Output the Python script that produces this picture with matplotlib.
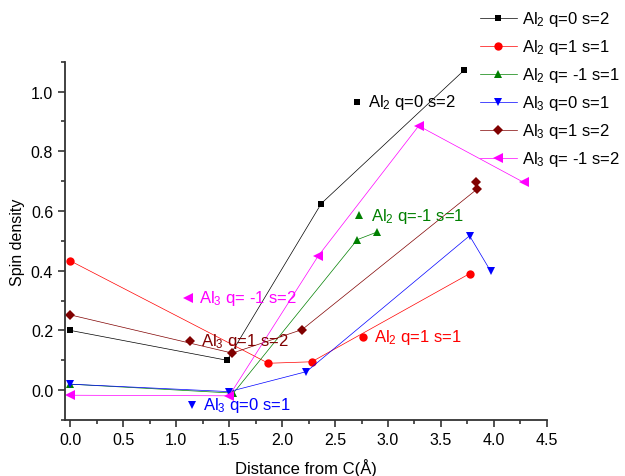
import matplotlib.pyplot as plt
from matplotlib.ticker import MultipleLocator

plt.rcParams['font.family'] = ['Liberation Sans', 'DejaVu Sans']
plt.rcParams['mathtext.fontset'] = 'custom'
plt.rcParams['mathtext.rm'] = 'Liberation Sans'
plt.rcParams['mathtext.it'] = 'Liberation Sans'

# series data
al2_q0_x = [0.0, 1.48, 2.37, 3.72]
al2_q0_y = [0.20, 0.10, 0.625, 1.072]
al2_q1_x = [0.0, 1.87, 2.28, 3.77]
al2_q1_y = [0.433, 0.090, 0.095, 0.39]
al2_qm1_x = [0.0, 1.54, 2.71, 2.90]
al2_qm1_y = [0.02, -0.01, 0.504, 0.53]
al3_q0_x = [0.0, 1.50, 2.23, 3.77, 3.97]
al3_q0_y = [0.02, -0.005, 0.062, 0.517, 0.398]
al3_q1_x = [0.0, 1.53, 2.19, 3.84, 3.83]
al3_q1_y = [0.252, 0.124, 0.203, 0.673, 0.698]
al3_qm1_x = [0.0, 1.50, 2.34, 3.29, 4.28]
al3_qm1_y = [-0.017, -0.019, 0.449, 0.885, 0.696]

labels = ['Al$_2$ q=0 s=2', 'Al$_2$ q=1 s=1', 'Al$_2$ q= -1 s=1',
          'Al$_3$ q=0 s=1', 'Al$_3$ q=1 s=2', 'Al$_3$ q= -1 s=2']
colors = ['#000000', '#ff0000', '#008000', '#0000ff', '#800000', '#ff00ff']
markers = ['s', 'o', '^', 'v', 'D', '<']
msizes = [5, 6, 6, 6, 5.5, 6.5]

# in-plot annotations: (x, y, text, series index)
notes = [
    (2.71, 0.965, 'Al$_2$ q=0 s=2', 0),
    (2.76, 0.178, 'Al$_2$ q=1 s=1', 1),
    (2.73, 0.585, 'Al$_2$ q=-1 s=1', 2),
    (1.15, -0.049, 'Al$_3$ q=0 s=1', 3),
    (1.13, 0.165, 'Al$_3$ q=1 s=2', 4),
    (1.11, 0.309, 'Al$_3$ q= -1 s=2', 5),
]

xs = [al2_q0_x, al2_q1_x, al2_qm1_x, al3_q0_x, al3_q1_x, al3_qm1_x]
ys = [al2_q0_y, al2_q1_y, al2_qm1_y, al3_q0_y, al3_q1_y, al3_qm1_y]

fig = plt.figure(figsize=(6.25, 4.77), dpi=100)
ax = fig.add_axes([0.104, 0.1174, 0.771, 0.7512])

for x, y, lab, c, m, ms in zip(xs, ys, labels, colors, markers, msizes):
    ax.plot(x, y, color=c, lw=0.5, marker=m, markersize=ms,
            markeredgewidth=0, label=lab)

for nx, ny, txt, i in notes:
    ax.plot([nx], [ny], linestyle='none', marker=markers[i],
            markersize=msizes[i], markeredgewidth=0, color=colors[i])
    ax.annotate(txt, (nx, ny), xytext=(8, 0), textcoords='offset points',
                va='center', ha='left', fontsize=12, color=colors[i])

ax.set_xlim(-0.05, 4.5)
ax.set_ylim(-0.1, 1.1)
ax.xaxis.set_major_locator(MultipleLocator(0.5))
ax.xaxis.set_minor_locator(MultipleLocator(0.25))
ax.yaxis.set_major_locator(MultipleLocator(0.2))
ax.yaxis.set_minor_locator(MultipleLocator(0.1))
ax.spines['top'].set_visible(False)
ax.spines['right'].set_visible(False)
for s in ['left', 'bottom']:
    ax.spines[s].set_linewidth(1.3)
    ax.spines[s].set_color('#333333')
ax.tick_params(which='major', direction='out', length=5, width=1.2,
               labelsize=11.5, color='#333333')
ax.tick_params(which='minor', direction='out', length=3, width=1.2,
               color='#333333')

ax.set_xlabel('Distance from C(Å)', fontsize=12, labelpad=8)
ax.set_ylabel('Spin density', fontsize=11.5)

fig.legend(loc='upper left', bbox_to_anchor=(0.768, 0.978), frameon=False,
           fontsize=12, handlelength=2.2, handletextpad=0.3,
           labelspacing=0.54, borderpad=0, borderaxespad=0)

fig.savefig('out.png', dpi=100)
